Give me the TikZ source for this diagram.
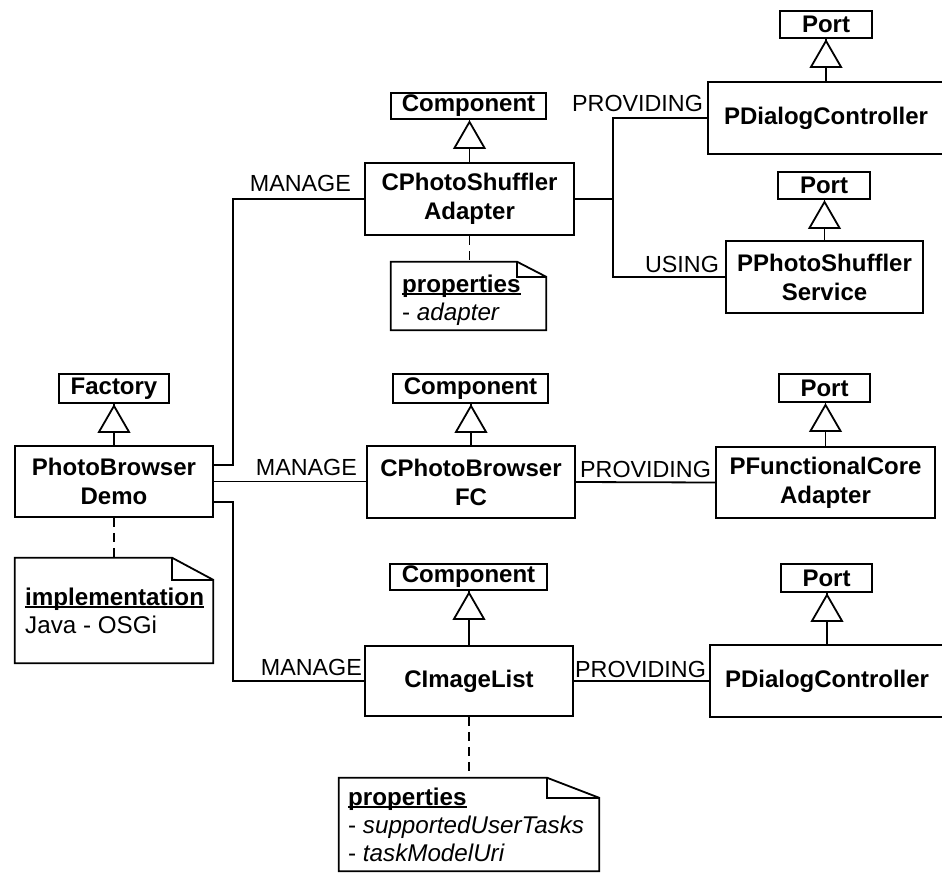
\documentclass[tikz,border=0pt]{standalone}
\usepackage{fontspec}
\setmainfont{Liberation Sans}

% bold word with a tight underline
\newcommand\underbf[1]{\setbox0\hbox{\bfseries #1}\rlap{\copy0}\rule[-2.5bp]{\wd0}{1.5bp}}
% note outline with a folded corner
\newcommand\notefold[3]{%
  \draw[conn, fill=white] (#1.south west) -- (#1.north west) -- ([xshift=-#2]#1.north east)
    -- ([yshift=-#3]#1.north east) -- (#1.south east) -- cycle;
  \draw[conn] ([xshift=-#2]#1.north east) |- ([yshift=-#3]#1.north east);}

\tikzset{
  cls/.style={draw, line width=1.8bp, inner sep=0pt, align=center,
    font=\fontsize{24bp}{29bp}\selectfont\bfseries},
  lbl/.style={inner sep=0pt, font=\fontsize{23.3bp}{28bp}\selectfont},
  notetext/.style={inner sep=0pt, font=\fontsize{24.2bp}{28bp}\selectfont},
  notebox/.style={inner sep=0pt},
  conn/.style={line width=1.8bp},
  anno/.style={line width=1.8bp, dash pattern=on 9bp off 6bp},
}

\begin{document}
\begin{tikzpicture}[x=1bp, y=-1bp]
        \useasboundingbox (0,0) rectangle (942,873);
        \clip (0,0) rectangle (942,873);

        % classes
        \node[cls, minimum width=198bp, minimum height=71bp] (demo) at (114,481.5) {PhotoBrowser\\Demo};
        \node[cls, minimum width=110bp, minimum height=29bp] (factory) at (114,388.5) {Factory};

        \node[cls, minimum width=155bp, minimum height=26bp] (compA) at (468.5,106) {Component};
        \node[cls, minimum width=209bp, minimum height=72bp] (shuffler) at (469.5,199) {CPhotoShuffler\\Adapter};
        \node[cls, minimum width=155bp, minimum height=29bp] (compB) at (470.5,388.5) {Component};
        \node[cls, minimum width=208bp, minimum height=72bp] (fc) at (471,482) {CPhotoBrowser\\FC};
        \node[cls, minimum width=157bp, minimum height=26bp] (compC) at (468.5,577) {Component};
        \node[cls, minimum width=208bp, minimum height=70bp] (imglist) at (469,681) {CImageList};

        \node[cls, minimum width=92bp, minimum height=27bp] (portA) at (826,24.5) {Port};
        \node[cls, minimum width=236bp, minimum height=72bp] (dialogA) at (826,118) {PDialogController};
        \node[cls, minimum width=92bp, minimum height=27bp] (portB) at (824,185.5) {Port};
        \node[cls, minimum width=197bp, minimum height=72bp] (service) at (824.5,277) {PPhotoShuffler\\Service};
        \node[cls, minimum width=91bp, minimum height=28bp] (portC) at (824.5,388) {Port};
        \node[cls, minimum width=219bp, minimum height=71bp] (core) at (825.5,482.5) {PFunctionalCore\\Adapter};
        \node[cls, minimum width=91bp, minimum height=28bp] (portD) at (826.5,578) {Port};
        \node[cls, minimum width=234bp, minimum height=72bp] (dialogB) at (827,681) {PDialogController};

        % generalisations (hollow triangle at the parent)
        \foreach \child/\parent in {demo/factory, shuffler/compA, fc/compB, imglist/compC,
            dialogA/portA, service/portB, core/portC, dialogB/portD}{
          \draw[conn] (\child.north) -- (\child.north |- \parent.south);
          \draw[conn, fill=white, line join=miter] (\child.north |- \parent.south) ++(0,2)
            -- ++(-15,26) -- ++(30,0) -- cycle;
        }

        % notes
        \node[notebox, minimum width=198bp, minimum height=105bp] (implnote) at (114,610.5) {};
        \notefold{implnote}{41bp}{22bp}
        \node[notetext, anchor=base west] (impltext) at (25,605)
          {\vtop{\hbox{\underbf{implementation}}\hbox{Java - OSGi}}};
        \draw[anno] (demo.south) -- (implnote.north);

        \node[notebox, minimum width=155bp, minimum height=68bp] (propnoteA) at (468.5,296) {};
        \notefold{propnoteA}{29bp}{15bp}
        \node[notetext, anchor=base west] (proptextA) at (402,292)
          {\vtop{\hbox{\underbf{properties}}\hbox{- \textit{adapter}}}};
        \draw[anno] (shuffler.south) -- (shuffler.south |- propnoteA.north);

        \node[notebox, minimum width=260bp, minimum height=93bp] (propnoteC) at (469,824.5) {};
        \notefold{propnoteC}{52bp}{20bp}
        \node[notetext, anchor=base west] (proptextC) at (348,805)
          {\vtop{\hbox{\underbf{properties}}\hbox{- \textit{supportedUserTasks}}\hbox{- \textit{taskModelUri}}}};
        \draw[anno] (imglist.south) -- (propnoteC.north);

        % links
        \draw[conn] ([yshift=16.5bp]demo.east) -- ++(19,0) |- (shuffler.west);
        \draw[conn] (demo.east) -- (demo.east -| fc.west);
        \draw[conn] ([yshift=-20.5bp]demo.east) -- ++(19,0) |- (imglist.west);
        \draw[conn] (shuffler.east) -- ++(38,0) |- (dialogA.west);
        \draw[conn] (shuffler.east) -- ++(38,0) |- (service.west);
        \draw[conn] (fc.east) -- (core.west);
        \draw[conn] (imglist.east) -- (dialogB.west);

        % link labels
        \node[lbl, anchor=base east] (manageA) at ([xshift=-13bp,yshift=8bp]shuffler.west) {MANAGE};
        \node[lbl, anchor=base east] (manageB) at ([xshift=-9bp,yshift=7bp]fc.west) {MANAGE};
        \node[lbl, anchor=base east] (manageC) at ([xshift=-2bp,yshift=6bp]imglist.west) {MANAGE};
        \node[lbl, anchor=base east] (provideA) at ([xshift=-4bp,yshift=7bp]dialogA.west) {PROVIDING};
        \node[lbl, anchor=base east] (useB) at ([xshift=-6bp,yshift=5bp]service.west) {USING};
        \node[lbl, anchor=base east] (provideC) at ([xshift=-4bp,yshift=5bp]core.west) {PROVIDING};
        \node[lbl, anchor=base east] (provideD) at ([xshift=-3bp,yshift=4bp]dialogB.west) {PROVIDING};
      \end{tikzpicture}
\end{document}
